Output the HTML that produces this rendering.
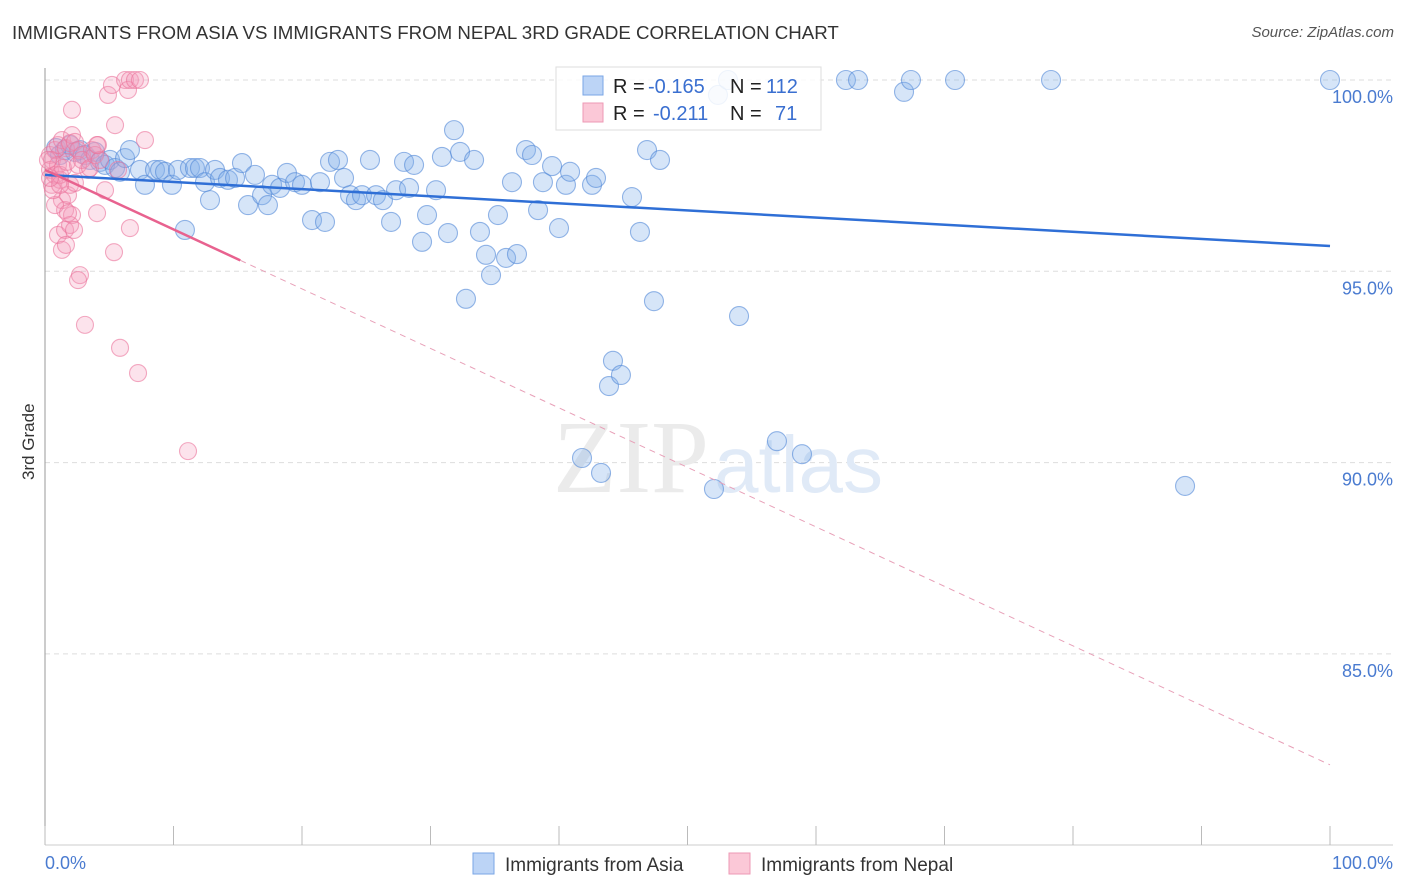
<!DOCTYPE html>
<html><head><meta charset="utf-8">
<style>
body{margin:0;background:#fff;font-family:"Liberation Sans",sans-serif;}
#wrap{position:relative;width:1406px;height:892px;overflow:hidden;}
.t{position:absolute;white-space:nowrap;}
</style></head>
<body>
<div id="wrap">
<div class="t" style="left:12px;top:22px;font-size:18.7px;color:#333;">IMMIGRANTS FROM ASIA VS IMMIGRANTS FROM NEPAL 3RD GRADE CORRELATION CHART</div>
<div class="t" style="right:12px;top:24px;font-size:15px;color:#555;font-style:italic;">Source: ZipAtlas.com</div>
<div class="t" style="left:4px;top:445px;font-size:17px;color:#333;transform:rotate(-90deg);transform-origin:center;width:50px;text-align:center;">3rd Grade</div>
<svg id="svg" width="1406" height="892" style="position:absolute;left:0;top:0"></svg>
</div>
<script>
const yTicks=[100,95,90,85];
const yTickLabels=["100.0%","95.0%","90.0%","85.0%"];
const xTicks=[0,10,20,30,40,50,60,70,80,90,100];
const asiaX=[0.86,1.17,1.56,1.95,2.33,2.72,3.11,3.5,3.89,4.28,4.67,5.06,5.45,5.84,6.23,6.61,7.39,7.78,8.56,8.95,9.34,9.88,10.35,10.89,11.28,11.67,12.06,12.45,12.84,13.23,13.62,14.24,14.79,15.33,15.8,16.34,16.89,17.35,17.67,18.29,18.83,19.46,20,20.78,21.4,21.79,22.18,22.8,23.27,23.74,24.2,24.67,25.29,25.76,26.3,26.93,27.32,27.94,28.33,28.72,29.34,29.73,30.43,30.89,31.36,31.83,32.3,32.76,33.39,33.85,34.32,34.71,35.25,35.88,36.34,36.73,37.43,37.9,38.37,38.75,39.46,40,40.54,40.86,42.57,42.88,43.27,41.79,44.2,43.89,44.82,45.68,46.3,46.85,47.39,47.86,52.06,52.37,53.15,54.01,56.96,58.91,62.33,63.27,66.85,67.39,70.82,78.29,88.72,100];
const asiaY=[98.22,98.04,98.17,98.3,98.12,98.17,98.04,97.91,98.12,97.86,97.78,97.91,97.7,97.6,97.96,98.17,97.65,97.26,97.65,97.65,97.6,97.26,97.65,96.08,97.7,97.7,97.7,97.33,96.86,97.65,97.44,97.39,97.44,97.83,96.73,97.52,96.99,96.73,97.26,97.18,97.57,97.33,97.26,96.34,97.33,96.29,97.86,97.91,97.44,96.99,96.86,96.99,97.91,96.99,96.86,96.29,97.12,97.86,97.18,97.78,95.77,96.47,97.12,97.99,96,98.69,98.12,94.28,97.91,96.03,95.43,94.9,96.47,95.35,97.33,95.45,98.17,98.04,96.6,97.33,97.75,96.13,97.26,97.6,97.26,97.44,89.73,90.12,92.66,92,92.29,96.94,96.03,98.17,94.22,97.91,89.31,99.61,100,93.83,90.56,90.22,100,100,99.69,100,100,100,89.39,100];
const nepalX=[0.39,0.54,0.78,1.01,1.32,1.63,1.95,2.1,2.33,2.57,2.88,0.39,0.54,0.78,1.01,1.17,1.32,1.56,1.79,1.95,2.1,1.01,1.32,1.56,1.95,2.33,2.72,2.57,3.11,3.35,3.66,4.12,4.05,4.67,4.9,5.21,5.45,5.68,5.84,6.23,6.46,6.61,7,7.39,7.24,7.78,11.13,0.78,1.63,2.1,0.23,0.62,1.17,1.4,1.71,2.57,2.88,3.5,3.89,4.28,6.61,5.37,4.05,2.26,1.79,1.17,0.39];
const nepalY=[98.04,97.91,98.17,98.3,98.43,98.22,98.35,98.56,98.38,98.17,98.04,97.65,97.26,97.52,97.78,97.39,96.86,96.6,96.99,97.26,96.47,95.95,95.56,96.08,96.21,97.31,94.9,94.77,93.6,97.65,98.17,98.3,96.52,97.12,99.61,99.87,98.82,97.65,93,100,99.74,100,100,100,92.34,98.43,90.3,96.73,95.69,99.22,97.91,97.12,97.52,97.7,97.86,97.78,97.91,97.7,98.04,97.91,96.13,95.5,98.3,96.08,96.52,97.26,97.44];
const asiaTrend=[97.52,95.66];
const nepalTrend=[97.65,82.1];
const nepalSolidEnd=15.2;

const NS="http://www.w3.org/2000/svg";
const svg=document.getElementById('svg');
const X0=45,X1=1330,YT=80,YB=845;
const sx=v=>X0+(X1-X0)*v/100;
const sy=v=>YT+(100-v)*38.26;
function mk(tag,at,parent){const e=document.createElementNS(NS,tag);for(const k in at)e.setAttribute(k,at[k]);(parent||svg).appendChild(e);return e;}
yTicks.forEach((t,i)=>{
 const g=mk('line',{x1:X0,x2:1393,y1:sy(t),y2:sy(t),stroke:'#ddd','stroke-dasharray':'5,4'});
 
 
 const tx=mk('text',{x:1393,y:sy(t)+23,'text-anchor':'end','font-size':18,fill:'#4a7bd0','font-family':'Liberation Sans'});
 tx.textContent=yTickLabels[i];
 
 
});
mk('line',{x1:X0,x2:X0,y1:68,y2:YB,stroke:'#999'});
mk('line',{x1:X0,x2:1393,y1:YB,y2:YB,stroke:'#ccc'});
xTicks.forEach(t=>{
 const l=mk('line',{x1:sx(t),x2:sx(t),y1:826,y2:YB,stroke:'#bbb'});
 
 
});
const xl=mk('text',{x:45,y:869,'font-size':18,fill:'#4a7bd0','font-family':'Liberation Sans'});xl.textContent='0.0%';


const xr=mk('text',{x:1393,y:869,'text-anchor':'end','font-size':18,fill:'#4a7bd0','font-family':'Liberation Sans'});xr.textContent='100.0%';


const wm=mk('text',{x:553,y:492,'font-size':104,fill:'#ebebeb','font-family':'Liberation Serif'});wm.textContent='ZIP';


const wm2=mk('text',{x:714,y:492,'font-size':80,fill:'#e0eaf7','font-family':'Liberation Sans'});wm2.textContent='atlas';


asiaX.forEach((v,i)=>{
 const c=mk('circle',{cx:sx(v),cy:sy(asiaY[i]),r:9.5,fill:'rgba(130,175,235,0.33)',stroke:'rgba(80,135,215,0.6)','stroke-width':1.1});
 
 
});
nepalX.forEach((v,i)=>{
 const c=mk('circle',{cx:sx(v),cy:sy(nepalY[i]),r:8.5,fill:'rgba(245,155,185,0.28)',stroke:'rgba(235,115,155,0.6)','stroke-width':1.1});
 
 
});
const ta=mk('line',{x1:sx(0),y1:sy(asiaTrend[0]),x2:sx(100),y2:sy(asiaTrend[1]),stroke:'#2f6fd6','stroke-width':2.5});


const ny=x=>nepalTrend[0]+(nepalTrend[1]-nepalTrend[0])*x/100;
const tn=mk('line',{x1:sx(0),y1:sy(ny(0)),x2:sx(nepalSolidEnd),y2:sy(ny(nepalSolidEnd)),stroke:'#e8628f','stroke-width':2.5});


const td=mk('line',{x1:sx(nepalSolidEnd),y1:sy(ny(nepalSolidEnd)),x2:sx(100),y2:sy(ny(100)),stroke:'#e8a0b8','stroke-width':1,'stroke-dasharray':'6,5'});


const lg=mk('g',{});


mk('rect',{x:556,y:67,width:265,height:63,fill:'rgba(255,255,255,0.85)',stroke:'#ddd'},lg);
mk('rect',{x:583,y:76,width:20,height:19,fill:'#bcd4f6',stroke:'#7aa6e6'},lg);
mk('rect',{x:583,y:103,width:20,height:19,fill:'#fbc8d7',stroke:'#ee99b4'},lg);
function lt(x,y,s,c){const t=mk('text',{x:x,y:y,'font-size':20,fill:c,'font-family':'Liberation Sans'},lg);t.textContent=s;return t;}
lt(613,93,'R =','#222');lt(648,93,'-0.165','#3a6fd0');lt(730,93,'N =','#222');lt(766,93,'112','#3a6fd0');
lt(613,120,'R =','#222');lt(653,120,'-0.211','#3a6fd0');lt(730,120,'N =','#222');lt(775,120,'71','#3a6fd0');
const bl=mk('g',{});


mk('rect',{x:473,y:853,width:21,height:21,fill:'#bcd4f6',stroke:'#7aa6e6'},bl);
const b1=mk('text',{x:505,y:871,'font-size':19,fill:'#333','font-family':'Liberation Sans'},bl);b1.textContent='Immigrants from Asia';
mk('rect',{x:729,y:853,width:21,height:21,fill:'#fbc8d7',stroke:'#ee99b4'},bl);
const b2=mk('text',{x:761,y:871,'font-size':19,fill:'#333','font-family':'Liberation Sans'},bl);b2.textContent='Immigrants from Nepal';
</script>
</body></html>
